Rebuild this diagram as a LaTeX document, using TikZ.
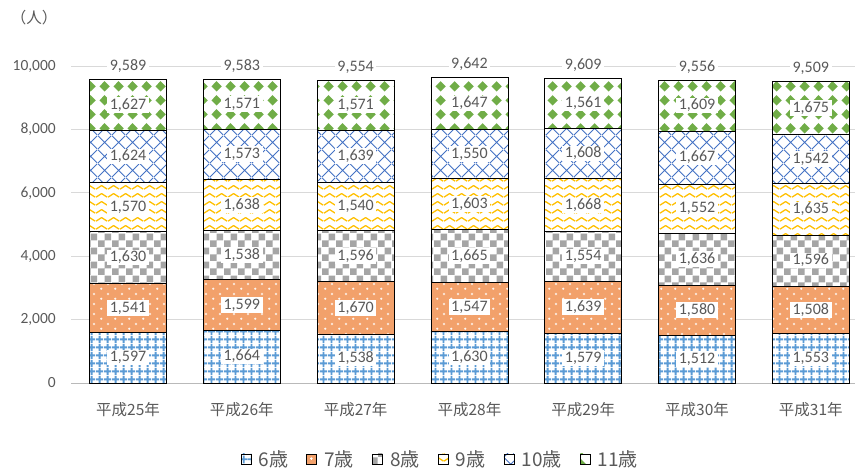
\documentclass[tikz,border=0pt]{standalone}
\usepackage{fontspec}
\setmainfont{Carlito}
\newfontfamily\jpfont{Noto Sans CJK JP}
\usetikzlibrary{patterns,positioning,calc}

\definecolor{txtgray}{RGB}{89,89,89}
\definecolor{gridgray}{RGB}{217,217,217}
\definecolor{agesix}{RGB}{91,155,213}
\definecolor{ageseven}{RGB}{237,125,49}
\definecolor{ageeight}{RGB}{165,165,165}
\definecolor{agenine}{RGB}{255,192,0}
\definecolor{ageten}{RGB}{68,114,196}
\definecolor{ageeleven}{RGB}{112,173,71}

% fill patterns of the six age groups
\pgfdeclarepatternformonly{gridsix}{\pgfpointorigin}{\pgfpoint{8pt}{8pt}}{\pgfpoint{8pt}{8pt}}{%
  \pgfsetlinewidth{2pt}%
  \pgfpathmoveto{\pgfpoint{0pt}{4pt}}\pgfpathlineto{\pgfpoint{8pt}{4pt}}%
  \pgfpathmoveto{\pgfpoint{4pt}{0pt}}\pgfpathlineto{\pgfpoint{4pt}{8pt}}%
  \pgfusepath{stroke}}
\pgfdeclarepatternformonly{dotseven}{\pgfpointorigin}{\pgfpoint{14pt}{10pt}}{\pgfpoint{14pt}{10pt}}{%
  \pgfsetlinewidth{0.8pt}%
  \pgfpathmoveto{\pgfpoint{2.3pt}{2.5pt}}\pgfpathlineto{\pgfpoint{4.7pt}{2.5pt}}%
  \pgfpathmoveto{\pgfpoint{3.5pt}{1.3pt}}\pgfpathlineto{\pgfpoint{3.5pt}{3.7pt}}%
  \pgfpathmoveto{\pgfpoint{9.3pt}{7.5pt}}\pgfpathlineto{\pgfpoint{11.7pt}{7.5pt}}%
  \pgfpathmoveto{\pgfpoint{10.5pt}{6.3pt}}\pgfpathlineto{\pgfpoint{10.5pt}{8.7pt}}%
  \pgfusepath{stroke}}
\pgfdeclarepatternformonly{checkeight}{\pgfpointorigin}{\pgfpoint{14pt}{14pt}}{\pgfpoint{14pt}{14pt}}{%
  \pgfpathrectangle{\pgfpointorigin}{\pgfpoint{7pt}{7pt}}%
  \pgfpathrectangle{\pgfpoint{7pt}{7pt}}{\pgfpoint{7pt}{7pt}}%
  \pgfusepath{fill}}
\pgfdeclarepatternformonly{wavenine}{\pgfpointorigin}{\pgfpoint{12pt}{8pt}}{\pgfpoint{12pt}{8pt}}{%
  \pgfsetlinewidth{1.4pt}\pgfsetroundjoin%
  \pgfpathmoveto{\pgfpoint{0pt}{2pt}}\pgfpathlineto{\pgfpoint{6pt}{6pt}}%
  \pgfpathlineto{\pgfpoint{12pt}{2pt}}%
  \pgfusepath{stroke}}
\pgfdeclarepatternformonly{crossten}{\pgfpointorigin}{\pgfpoint{14pt}{14pt}}{\pgfpoint{14pt}{14pt}}{%
  \pgfsetlinewidth{0.9pt}%
  \pgfpathmoveto{\pgfpointorigin}\pgfpathlineto{\pgfpoint{14pt}{14pt}}%
  \pgfpathmoveto{\pgfpoint{0pt}{14pt}}\pgfpathlineto{\pgfpoint{14pt}{0pt}}%
  \pgfusepath{stroke}}
\pgfdeclarepatternformonly{diamondeleven}{\pgfpointorigin}{\pgfpoint{14pt}{14pt}}{\pgfpoint{14pt}{14pt}}{%
  \pgfpathmoveto{\pgfpoint{7pt}{1.5pt}}\pgfpathlineto{\pgfpoint{12.5pt}{7pt}}%
  \pgfpathlineto{\pgfpoint{7pt}{12.5pt}}\pgfpathlineto{\pgfpoint{1.5pt}{7pt}}\pgfpathclose
  \pgfusepath{fill}}

% 1597 -> 1,597
\def\thoux#1#2#3#4{#1,#2#3#4}
\newcommand\thou[1]{\expandafter\thoux#1}

\tikzset{
  bar1/.style={preaction={fill=white}, pattern=gridsix, pattern color=agesix, draw=black, line width=0.8pt},
  bar2/.style={preaction={fill=ageseven!72!white}, pattern=dotseven, pattern color=white, draw=black, line width=0.8pt},
  bar3/.style={preaction={fill=white}, pattern=checkeight, pattern color=ageeight, draw=black, line width=0.8pt},
  bar4/.style={preaction={fill=white}, pattern=wavenine, pattern color=agenine, draw=black, line width=0.8pt},
  bar5/.style={preaction={fill=white}, pattern=crossten, pattern color=ageten, draw=black, line width=0.8pt},
  bar6/.style={preaction={fill=white}, pattern=diamondeleven, pattern color=ageeleven, draw=black, line width=0.8pt},
  gridline/.style={draw=gridgray, line width=0.8pt},
  numlab/.style={fill=white, text=txtgray, font=\fontsize{16}{16}\selectfont,
    inner xsep=2.5pt, inner ysep=2pt, text height=10pt, text depth=1.5pt},
  axislab/.style={text=txtgray, font=\fontsize{15.5}{15.5}\selectfont, inner sep=0pt},
  catlab/.style={text=txtgray, font=\jpfont\fontsize{15.5}{15.5}\selectfont, inner sep=0pt},
  legkey/.style={minimum size=10pt, inner sep=0pt, line width=0.6pt},
  legtext/.style={text=txtgray, font=\jpfont\fontsize{19}{19}\selectfont, inner sep=0pt}
}

\begin{document}
\begin{tikzpicture}[x=1pt, y=1pt]
  \useasboundingbox (0,0) rectangle (860,471);
  \node[catlab, font=\jpfont\fontsize{15.5}{15.5}\selectfont] (unit) at (34,453.5) {（人）};

  \begin{scope}[shift={(0,88)}, y=0.0317pt]
    % grid and y axis
    \foreach \g/\lab in {2000/{2,000}, 4000/{4,000}, 6000/{6,000}, 8000/{8,000}, 10000/{10,000}} {
      \draw[gridline] (71,\g) -- (855,\g);
      \node[axislab, anchor=east] (tick\g) at (56,\g) {\lab};
    }
    \draw[draw=gray!55, line width=0.9pt] (71,0) -- (855,0);
    \node[axislab, anchor=east] (tick0) at (56,0) {0};

    % stacked bars
    \foreach \yr/\vals/\tot [count=\i from 0] in {
        25/{1597,1541,1630,1570,1624,1627}/9589,
        26/{1664,1599,1538,1638,1573,1571}/9583,
        27/{1538,1670,1596,1540,1639,1571}/9554,
        28/{1630,1547,1665,1603,1550,1647}/9642,
        29/{1579,1639,1554,1668,1608,1561}/9609,
        30/{1512,1580,1636,1552,1667,1609}/9556,
        31/{1553,1508,1596,1635,1542,1675}/9509} {
      \pgfmathsetmacro\cx{128+113.8*\i}
      \gdef\runtot{0}
      \foreach \v [count=\k] in \vals {
        \pgfmathsetmacro\newtot{\runtot+\v}
        \pgfmathsetmacro\midtot{\runtot+\v/2}
        \path[bar\k] (\cx-38.5,\runtot) rectangle (\cx+38.5,\newtot);
        \node[numlab] (lab\i-\k) at (\cx,\midtot) {\thou{\v}};
        \xdef\runtot{\newtot}
      }
      \node[numlab, anchor=south, yshift=5pt] (tot\i) at (\cx,\tot) {\thou{\tot}};
      \node[catlab] (cat\i) at (\cx,-852) {平成\yr{}年};
    }
  \end{scope}

  % legend
  \node[legkey, bar1] (key1) at (246,12) {};
  \node[legtext, right=7pt of key1] (leg1) {6歳};
  \node[legkey, bar2, right=18pt of leg1] (key2) {};
  \node[legtext, right=7pt of key2] (leg2) {7歳};
  \node[legkey, bar3, right=18pt of leg2] (key3) {};
  \node[legtext, right=7pt of key3] (leg3) {8歳};
  \node[legkey, bar4, right=18pt of leg3] (key4) {};
  \node[legtext, right=7pt of key4] (leg4) {9歳};
  \node[legkey, bar5, right=18pt of leg4] (key5) {};
  \node[legtext, right=7pt of key5] (leg5) {10歳};
  \node[legkey, bar6, right=18pt of leg5] (key6) {};
  \node[legtext, right=7pt of key6] (leg6) {11歳};
\end{tikzpicture}
\end{document}
